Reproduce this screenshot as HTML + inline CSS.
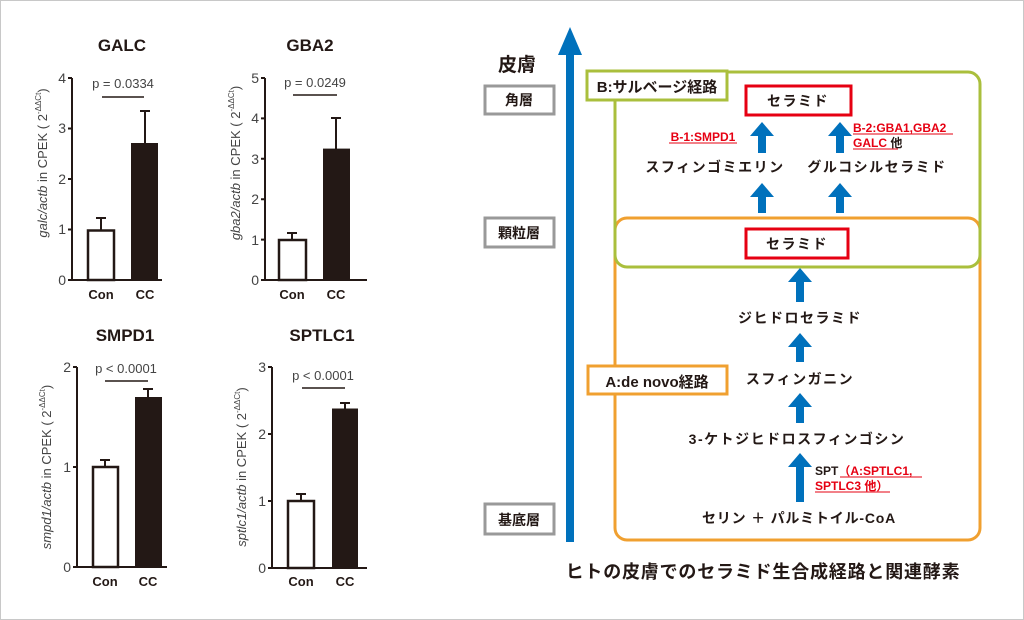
<!DOCTYPE html>
<html><head><meta charset="utf-8"><style>
html,body{margin:0;padding:0;background:#fff}
svg{display:block}
.t{font-family:"Liberation Sans","Noto Sans CJK JP",sans-serif}
</style></head><body>
<svg class="t" width="1024" height="620" viewBox="0 0 1024 620" xmlns="http://www.w3.org/2000/svg">
<rect x="0.5" y="0.5" width="1023" height="619" fill="#fff" stroke="#c8c8c8"/>
<g font-family="Liberation Sans, sans-serif" fill="#231815" stroke="none">
<!-- GALC -->
<text x="122" y="51" font-size="17" font-weight="bold" text-anchor="middle">GALC</text>
<text x="123" y="88" font-size="13" text-anchor="middle" fill="#444">p = 0.0334</text>
<line x1="102" y1="97" x2="144" y2="97" stroke="#231815" stroke-width="1.5"/>
<g stroke="#231815" stroke-width="2" fill="none">
<path d="M72 78 V280 H162"/>
<path d="M68 78H72M68 128.5H72M68 179H72M68 229.5H72M68 280H72"/>
<path d="M101 230V218M96 218H106M145 143V111M140 111H150"/>
</g>
<rect x="88" y="230.5" width="26" height="49.5" fill="#fff" stroke="#231815" stroke-width="2.5"/>
<rect x="131" y="143" width="27" height="137" fill="#231815"/>
<g font-size="14" text-anchor="end" fill="#444"><text x="66" y="83">4</text><text x="66" y="133">3</text><text x="66" y="184">2</text><text x="66" y="234">1</text><text x="66" y="285">0</text></g>
<text x="101" y="299" font-size="13" font-weight="bold" text-anchor="middle">Con</text>
<text x="145" y="299" font-size="13" font-weight="bold" text-anchor="middle">CC</text>
<text transform="translate(47,163) rotate(-90)" font-size="13" text-anchor="middle" fill="#444"><tspan font-style="italic">galc/actb</tspan> in CPEK ( 2<tspan font-size="8" dy="-6">-ΔΔCt</tspan><tspan dy="6">)</tspan></text>
<!-- GBA2 -->
<text x="310" y="51" font-size="17" font-weight="bold" text-anchor="middle">GBA2</text>
<text x="315" y="87" font-size="13" text-anchor="middle" fill="#444">p = 0.0249</text>
<line x1="293" y1="95" x2="337" y2="95" stroke="#231815" stroke-width="1.5"/>
<g stroke="#231815" stroke-width="2" fill="none">
<path d="M265 78 V280 H367"/>
<path d="M261 78H265M261 118.4H265M261 158.8H265M261 199.2H265M261 239.6H265M261 280H265"/>
<path d="M292 240V233M287 233H297M336 149V118M331 118H341"/>
</g>
<rect x="279" y="240" width="27" height="40" fill="#fff" stroke="#231815" stroke-width="2.5"/>
<rect x="323" y="148.6" width="27" height="131.4" fill="#231815"/>
<g font-size="14" text-anchor="end" fill="#444"><text x="259" y="83">5</text><text x="259" y="123">4</text><text x="259" y="164">3</text><text x="259" y="204">2</text><text x="259" y="245">1</text><text x="259" y="285">0</text></g>
<text x="292" y="299" font-size="13" font-weight="bold" text-anchor="middle">Con</text>
<text x="336" y="299" font-size="13" font-weight="bold" text-anchor="middle">CC</text>
<text transform="translate(240,163) rotate(-90)" font-size="13" text-anchor="middle" fill="#444"><tspan font-style="italic">gba2/actb</tspan> in CPEK ( 2<tspan font-size="8" dy="-6">-ΔΔCt</tspan><tspan dy="6">)</tspan></text>
<!-- SMPD1 -->
<text x="125" y="341" font-size="17" font-weight="bold" text-anchor="middle">SMPD1</text>
<text x="126" y="373" font-size="13" text-anchor="middle" fill="#444">p &lt; 0.0001</text>
<line x1="105" y1="381" x2="148" y2="381" stroke="#231815" stroke-width="1.5"/>
<g stroke="#231815" stroke-width="2" fill="none">
<path d="M77 367 V567 H167"/>
<path d="M73 367H77M73 467H77M73 567H77"/>
<path d="M105 467V460M100 460H110M148 397V389M143 389H153"/>
</g>
<rect x="93" y="467" width="25" height="100" fill="#fff" stroke="#231815" stroke-width="2.5"/>
<rect x="135" y="397" width="27" height="170" fill="#231815"/>
<g font-size="14" text-anchor="end" fill="#444"><text x="71" y="372">2</text><text x="71" y="472">1</text><text x="71" y="572">0</text></g>
<text x="105" y="586" font-size="13" font-weight="bold" text-anchor="middle">Con</text>
<text x="148" y="586" font-size="13" font-weight="bold" text-anchor="middle">CC</text>
<text transform="translate(51,467) rotate(-90)" font-size="13" text-anchor="middle" fill="#444"><tspan font-style="italic">smpd1/actb</tspan> in CPEK ( 2<tspan font-size="8" dy="-6">-ΔΔCt</tspan><tspan dy="6">)</tspan></text>
<!-- SPTLC1 -->
<text x="322" y="341" font-size="17" font-weight="bold" text-anchor="middle">SPTLC1</text>
<text x="323" y="380" font-size="13" text-anchor="middle" fill="#444">p &lt; 0.0001</text>
<line x1="302" y1="388" x2="345" y2="388" stroke="#231815" stroke-width="1.5"/>
<g stroke="#231815" stroke-width="2" fill="none">
<path d="M272 367 V568 H367"/>
<path d="M268 367H272M268 434H272M268 501H272M268 568H272"/>
<path d="M301 501V494M296 494H306M345 409V403M340 403H350"/>
</g>
<rect x="288" y="501" width="26" height="67" fill="#fff" stroke="#231815" stroke-width="2.5"/>
<rect x="332" y="408.5" width="26" height="159.5" fill="#231815"/>
<g font-size="14" text-anchor="end" fill="#444"><text x="266" y="372">3</text><text x="266" y="439">2</text><text x="266" y="506">1</text><text x="266" y="573">0</text></g>
<text x="301" y="586" font-size="13" font-weight="bold" text-anchor="middle">Con</text>
<text x="345" y="586" font-size="13" font-weight="bold" text-anchor="middle">CC</text>
<text transform="translate(246,467) rotate(-90)" font-size="13" text-anchor="middle" fill="#444"><tspan font-style="italic">sptlc1/actb</tspan> in CPEK ( 2<tspan font-size="8" dy="-6">-ΔΔCt</tspan><tspan dy="6">)</tspan></text>
</g>

<!-- Diagram -->
<g font-family="Liberation Sans, Noto Sans CJK JP, sans-serif" fill="#231815">
<polygon points="566,55 566,542 574,542 574,55 582,55 570,27 558,55" fill="#0071bc"/>
<text x="517" y="71" font-size="19" font-weight="bold" text-anchor="middle">皮膚</text>
<g fill="#fff" stroke="#999" stroke-width="3">
<rect x="485" y="86" width="69" height="28"/>
<rect x="485" y="218" width="69" height="29"/>
<rect x="485" y="504" width="69" height="30"/>
</g>
<g font-size="14" font-weight="bold" text-anchor="middle">
<text x="519" y="105">角層</text><text x="519" y="238">顆粒層</text><text x="519" y="525">基底層</text>
</g>
<rect x="615" y="218" width="365" height="322" rx="12" fill="none" stroke="#f0a030" stroke-width="3"/>
<rect x="615" y="72" width="365" height="195" rx="12" fill="none" stroke="#aabf3c" stroke-width="3"/>
<rect x="587" y="71" width="140" height="29" fill="#fff" stroke="#aabf3c" stroke-width="3"/>
<text x="657" y="92" font-size="15" font-weight="bold" text-anchor="middle">B:サルベージ経路</text>
<rect x="588" y="366" width="139" height="28" fill="#fff" stroke="#f0a030" stroke-width="3"/>
<text x="657" y="387" font-size="15" font-weight="bold" text-anchor="middle">A:de novo経路</text>
<rect x="746" y="86" width="105" height="29" fill="#fff" stroke="#e60012" stroke-width="3"/>
<rect x="746" y="229" width="102" height="29" fill="#fff" stroke="#e60012" stroke-width="3"/>
<g font-size="14" font-weight="bold" text-anchor="middle" letter-spacing="1.5">
<text x="798" y="106">セラミド</text><text x="797" y="249">セラミド</text>
<text x="715" y="172">スフィンゴミエリン</text>
<text x="877" y="172">グルコシルセラミド</text>
<text x="800" y="323">ジヒドロセラミド</text>
<text x="800" y="384">スフィンガニン</text>
<text x="797" y="444">3-ケトジヒドロスフィンゴシン</text>
</g>
<text x="799" y="523" font-size="14" font-weight="bold" text-anchor="middle" letter-spacing="0.8">セリン ＋ パルミトイル-CoA</text>
<g fill="#0071bc">
<polygon points="758,153 766,153 766,136 774,136 762,122 750,136 758,136"/>
<polygon points="836,153 844,153 844,136 852,136 840,122 828,136 836,136"/>
<polygon points="758,213 766,213 766,197 774,197 762,183 750,197 758,197"/>
<polygon points="836,213 844,213 844,197 852,197 840,183 828,197 836,197"/>
<polygon points="796,302 804,302 804,282 812,282 800,268 788,282 796,282"/>
<polygon points="796,362 804,362 804,347 812,347 800,333 788,347 796,347"/>
<polygon points="796,423 804,423 804,407 812,407 800,393 788,407 796,407"/>
<polygon points="796,502 804,502 804,467 812,467 800,453 788,467 796,467"/>
</g>
<g font-size="12" font-weight="bold" fill="#e60012">
<text x="703" y="141" text-anchor="middle">B-1:SMPD1</text>
<text x="853" y="132">B-2:GBA1,GBA2</text>
<text x="853" y="147">GALC <tspan fill="#231815">他</tspan></text>
<text x="815" y="475"><tspan fill="#231815">SPT</tspan>（A:SPTLC1,</text>
<text x="815" y="490">SPTLC3 他）</text>
</g>
<g stroke="#e60012" stroke-width="1">
<line x1="669" y1="143" x2="737" y2="143"/>
<line x1="853" y1="134" x2="953" y2="134"/>
<line x1="853" y1="149" x2="898" y2="149"/>
<line x1="840" y1="477" x2="922" y2="477"/>
<line x1="815" y1="492" x2="890" y2="492"/>
</g>
<text x="763" y="578" font-size="18" font-weight="bold" text-anchor="middle" letter-spacing="0.8">ヒトの皮膚でのセラミド生合成経路と関連酵素</text>
</g>
</svg>
</body></html>
